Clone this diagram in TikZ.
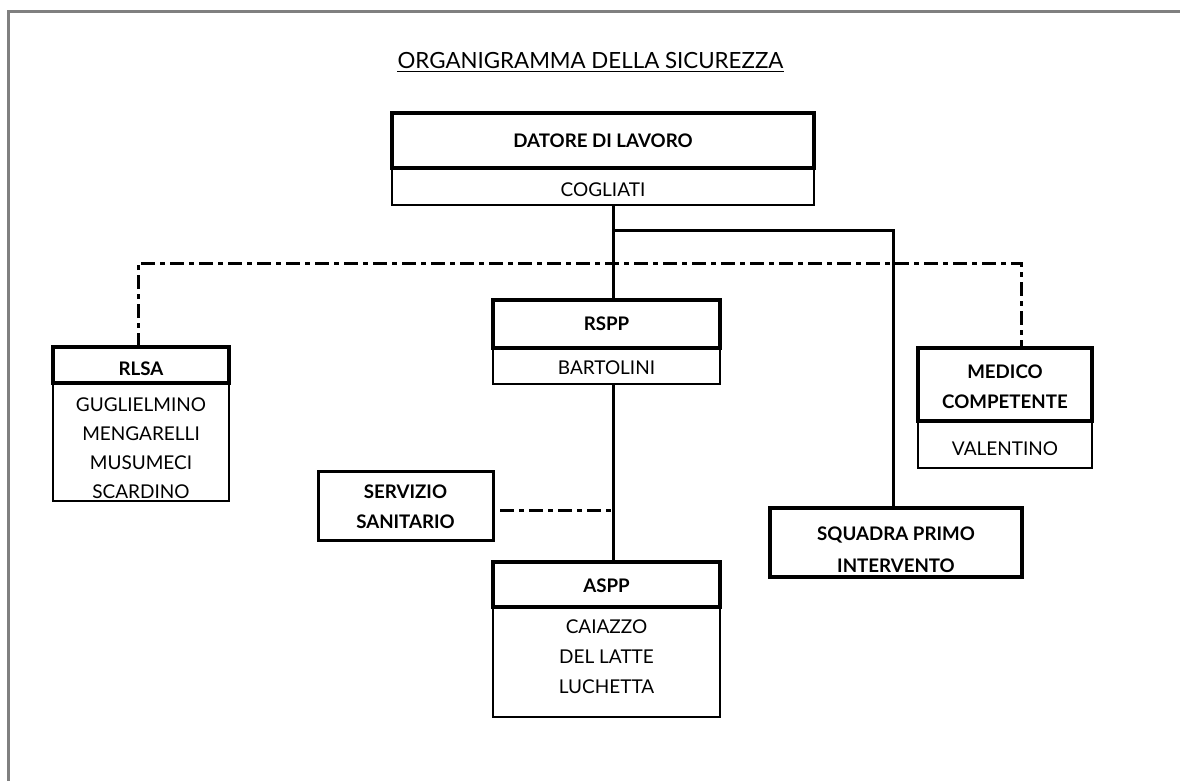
\documentclass[tikz,border=0pt]{standalone}
\usepackage{fontspec}
\setmainfont{Lato}
\begin{document}
\begin{tikzpicture}[x=1pt,y=-1pt,
 headbox/.style={draw, line width=4.5pt, inner sep=0pt, outer sep=0pt},
 namebox/.style={draw, line width=2.5pt, inner sep=0pt, outer sep=0pt},
 plainbox/.style={draw, line width=3pt, inner sep=0pt, outer sep=0pt},
 hd/.style={font=\fontsize{18.7}{22}\selectfont\bfseries, anchor=base, inner sep=0pt},
 nm/.style={font=\fontsize{19}{22}\selectfont, anchor=base, inner sep=0pt},
 solidlink/.style={line width=3pt},
 dashlink/.style={line width=3pt, dash pattern=on 14pt off 5pt on 5pt off 5pt},
]
\useasboundingbox (0,0) rectangle (1180,780);
\fill[white] (0,0) rectangle (1180,780);
\draw[line width=3pt, color={rgb,255:red,128;green,128;blue,128}] (8.5,781) -- (8.5,11) -- (1181,11);

% title
\node[font=\fontsize{22.3}{26}\selectfont, anchor=base, inner sep=0pt] (title) at (590.5,68) {ORGANIGRAMMA DELLA SICUREZZA};
\draw[line width=1.4pt] ([yshift=-3.5pt]title.base west) -- ([yshift=-3.5pt]title.base east);

% boxes
\node[namebox, minimum width=422pt, minimum height=37pt] (cogl) at (603,186.5) {};
\node[headbox, minimum width=422pt, minimum height=55pt] (dat) at (603,140.5) {};
\node[namebox, minimum width=227pt, minimum height=36pt] (bart) at (606.5,366) {};
\node[headbox, minimum width=227pt, minimum height=48pt] (rspp) at (606.5,324) {};
\node[namebox, minimum width=176pt, minimum height=118pt] (rlsanames) at (141,442) {};
\node[headbox, minimum width=176pt, minimum height=36pt] (rlsa) at (141,365) {};
\node[namebox, minimum width=174pt, minimum height=47pt] (val) at (1005,444.5) {};
\node[headbox, minimum width=174pt, minimum height=73pt] (med) at (1005,384.5) {};
\node[plainbox, minimum width=175pt, minimum height=69pt] (serv) at (405.5,505.5) {};
\node[headbox, minimum width=252pt, minimum height=69pt] (squad) at (896,542.5) {};
\node[namebox, minimum width=227pt, minimum height=110pt] (asppnames) at (606.5,662) {};
\node[headbox, minimum width=227pt, minimum height=45pt] (aspp) at (606.5,584.5) {};

% texts
\node[hd] (tdat) at (603,147) {DATORE DI LAVORO};
\node[nm] (tcogl) at (603,196) {COGLIATI};
\node[hd] (trspp) at (606.5,330) {RSPP};
\node[nm] (tbart) at (606.5,374) {BARTOLINI};
\node[hd] (trlsa) at (141,375) {RLSA};
\node[nm] (tr1) at (141,411) {GUGLIELMINO};
\node[nm] (tr2) at (141,440) {MENGARELLI};
\node[nm] (tr3) at (141,469) {MUSUMECI};
\node[nm] (tr4) at (141,498) {SCARDINO};
\node[hd] (tmed1) at (1005,378) {MEDICO};
\node[hd] (tmed2) at (1005,408) {COMPETENTE};
\node[nm] (tval) at (1005,455) {VALENTINO};
\node[hd] (tserv1) at (405.5,498) {SERVIZIO};
\node[hd] (tserv2) at (405.5,528) {SANITARIO};
\node[hd] (tsq1) at (896,540) {SQUADRA PRIMO};
\node[hd] (tsq2) at (896,572) {INTERVENTO};
\node[hd] (taspp) at (606.5,592) {ASPP};
\node[nm] (ta1) at (606.5,633) {CAIAZZO};
\node[nm] (ta2) at (606.5,663) {DEL LATTE};
\node[nm] (ta3) at (606.5,693) {LUCHETTA};

% connectors
\coordinate (j1) at (613,230);
\coordinate (j2) at (893,230);
\coordinate (d1) at (138,263);
\coordinate (d2) at (1021,263);
\coordinate (s0) at (500,510);
\coordinate (s1) at (613,510);
\draw[solidlink] (cogl.south -| j1) -- (rspp.north -| j1);
\draw[solidlink] (j1) -- (j2) -- (j2 |- squad.north);
\draw[solidlink] (bart.south -| j1) -- (aspp.north -| j1);
\draw[dashlink] (rlsa.north -| d1) -- (d1) -- (d2) -- (d2 |- med.north);
\draw[dashlink] (s0) -- (s1);
\end{tikzpicture}
\end{document}
